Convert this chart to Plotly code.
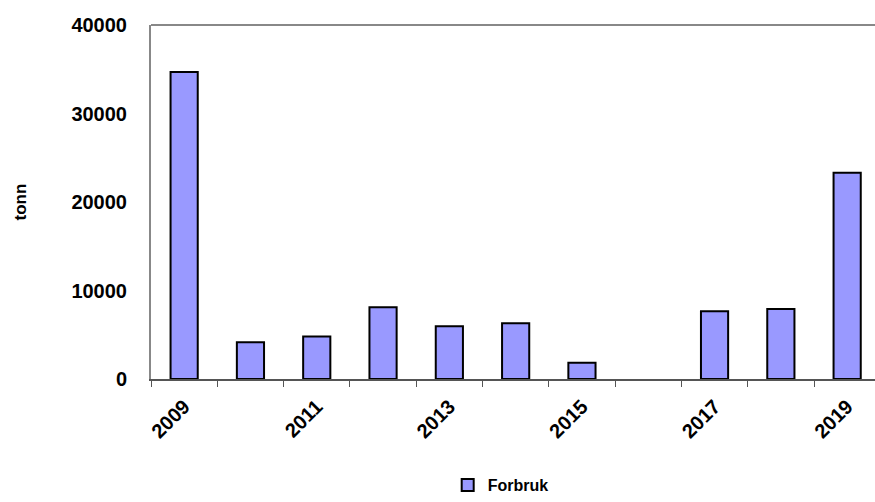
import plotly.graph_objects as go

# Annual consumption (tonnes); no value recorded for 2016
years = [2009, 2010, 2011, 2012, 2013, 2014, 2015, 2016, 2017, 2018, 2019]
forbruk = [34700, 4150, 4800, 8100, 5950, 6300, 1850, None, 7650, 7900, 23300]

y_ticks = [0, 10000, 20000, 30000, 40000]
x_ticks = [2009, 2011, 2013, 2015, 2017, 2019]

FONT = "Liberation Sans, Arial, sans-serif"

fig = go.Figure()
fig.add_trace(go.Bar(
    x=years,
    y=forbruk,
    name="Forbruk",
    width=0.41,
    marker=dict(color="#9999FF", line=dict(color="#000000", width=2)),
    showlegend=True,
))

fig.update_layout(
    width=875,
    height=502,
    margin=dict(l=151, r=0, t=25, b=123, autoexpand=False),
    paper_bgcolor="white",
    plot_bgcolor="white",
    font=dict(family=FONT, color="#000000"),
    showlegend=True,
    legend=dict(
        orientation="h",
        x=0.483, xanchor="center",
        yref="container",
        y=-0.012, yanchor="bottom",
        font=dict(size=16, weight="bold"),
        itemwidth=30,
        borderwidth=0,
    ),
    xaxis=dict(
        range=[2008.5, 2019.42],
        tickvals=x_ticks,
        ticktext=[str(v) for v in x_ticks],
        tickangle=-45,
        tickfont=dict(size=20, weight="bold"),
        ticks="",
        ticklabelstandoff=6,
        minor=dict(ticks="outside", tick0=2008.5, dtick=1, ticklen=6,
                   tickcolor="#555555", tickwidth=1),
        showgrid=False,
        zeroline=False,
        showline=True,
        linecolor="#555555",
        linewidth=2,
        automargin=False,
    ),
    yaxis=dict(
        range=[0, 40000],
        tickvals=y_ticks,
        ticktext=[str(v) for v in y_ticks],
        tickfont=dict(size=20, weight="bold"),
        ticks="",
        ticklabelstandoff=18,
        showgrid=False,
        zeroline=False,
        showline=True,
        linecolor="#888888",
        linewidth=2,
        automargin=False,
        title=dict(text="tonn", font=dict(size=17, weight="bold"), standoff=40),
    ),
    shapes=[dict(
        type="line", xref="paper", yref="paper",
        x0=0, x1=1, y0=1, y1=1,
        line=dict(color="#888888", width=2),
    )],
)

fig.write_html("out.html")
